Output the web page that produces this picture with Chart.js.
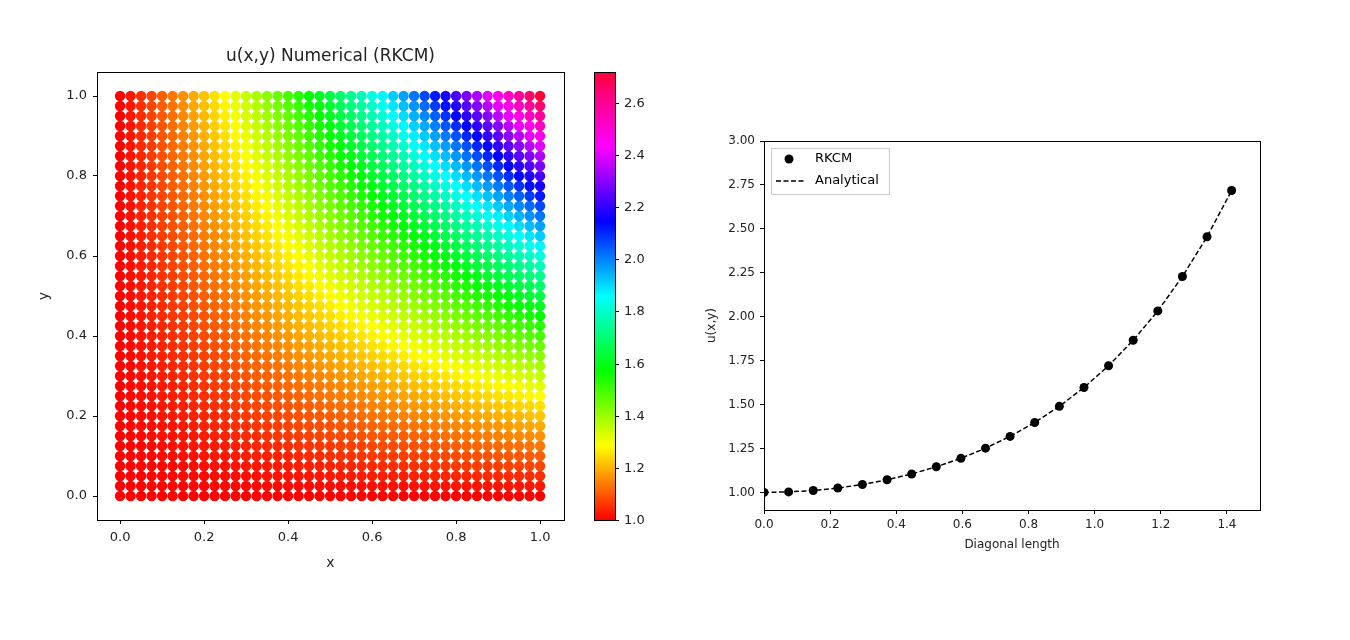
<!DOCTYPE html>
<html>
<head>
<meta charset="utf-8">
<script src="https://cdn.jsdelivr.net/npm/chart.js@4/dist/chart.umd.min.js"></script>
<style>
  body { margin: 0; background: #fff; }
  #left { position: absolute; left: 0; top: 0; }
  #right { position: absolute; left: 680px; top: 0; }
</style>
</head>
<body>
<canvas id="left" width="680" height="640"></canvas>
<canvas id="right" width="670" height="640"></canvas>
<script>
// grid of collocation points (41 x 41)
const gridX = [];
for (let i = 0; i <= 40; i++) gridX.push(i / 40);
const gridY = gridX.slice();

// diagonal comparison
const diagLength = [0, 0.0744, 0.1489, 0.2233, 0.2977, 0.3722, 0.4466, 0.5211,
  0.5955, 0.6699, 0.7443, 0.8188, 0.8932, 0.9677, 1.0421, 1.1165, 1.1910,
  1.2654, 1.3398, 1.4142];
const rkcmVals = [1.000, 1.003, 1.011, 1.025, 1.045, 1.072, 1.105, 1.146,
  1.194, 1.252, 1.319, 1.398, 1.490, 1.597, 1.721, 1.866, 2.033, 2.229,
  2.455, 2.718];
const analyticalVals = rkcmVals.slice();

const colorTicks = [1.0, 1.2, 1.4, 1.6, 1.8, 2.0, 2.2, 2.4, 2.6];
const uMin = 1.0;
const uMax = Math.E;

// hsv colormap
const rainbow = [
  [0, [1, 0, 0]], [1 / 6, [1, 1, 0]], [2 / 6, [0, 1, 0]], [3 / 6, [0, 1, 1]],
  [4 / 6, [0, 0, 1]], [5 / 6, [1, 0, 1]], [0.95, [1, 0, 0.5]], [1, [1, 0, 0.2]],
];
const cmap = (t) => {
  t = Math.max(0, Math.min(1, t));
  for (let i = 1; i < rainbow.length; i++) {
    if (t <= rainbow[i][0]) {
      const [t0, c0] = rainbow[i - 1];
      const [t1, c1] = rainbow[i];
      const f = (t - t0) / (t1 - t0);
      const c = c0.map((v, k) => Math.round(255 * (v + (c1[k] - v) * f)));
      return `rgb(${c[0]},${c[1]},${c[2]})`;
    }
  }
  return 'rgb(255,0,50)';
};

// field values: the numerical solution reproduces u = exp(x*y)
const points = [];
const colors = [];
gridY.forEach((y) => {
  gridX.forEach((x) => {
    const u = Math.exp(x * y);
    points.push({x: x, y: y});
    colors.push(cmap((u - uMin) / (uMax - uMin)));
  });
});

Chart.defaults.font.family = 'DejaVu Sans';
Chart.defaults.font.size = 13;
Chart.defaults.color = '#222';
Chart.defaults.devicePixelRatio = 1;

// frame around plot area plus axis titles at fixed offsets
const frame = {
  id: 'frame',
  afterDatasetsDraw(chart, args, opts) {
    const a = chart.chartArea;
    const ctx = chart.ctx;
    ctx.save();
    ctx.strokeStyle = '#000';
    ctx.lineWidth = 1;
    ctx.strokeRect(Math.round(a.left) + 0.5, Math.round(a.top) + 0.5,
        Math.round(a.right - a.left), Math.round(a.bottom - a.top));
    ctx.fillStyle = '#222';
    ctx.font = opts.size + 'px DejaVu Sans';
    ctx.textAlign = 'center';
    ctx.textBaseline = 'middle';
    ctx.fillText(opts.xTitle, (a.left + a.right) / 2, a.bottom + opts.xOff);
    ctx.translate(a.left - opts.yOff, (a.top + a.bottom) / 2);
    ctx.rotate(-Math.PI / 2);
    ctx.fillText(opts.yTitle, 0, 0);
    ctx.restore();
  },
};

const colorbar = {
  id: 'colorbar',
  afterDraw(chart) {
    const s = chart.scales.cb;
    const ctx = chart.ctx;
    const x0 = 594, w = 21;
    const top = s.getPixelForValue(uMax);
    const bot = s.getPixelForValue(uMin);
    ctx.save();
    for (let py = Math.floor(top); py < bot; py++) {
      const v = s.getValueForPixel(py + 0.5);
      ctx.fillStyle = cmap((v - uMin) / (uMax - uMin));
      ctx.fillRect(x0, py, w, 1);
    }
    ctx.strokeStyle = '#000';
    ctx.lineWidth = 1;
    ctx.strokeRect(x0 + 0.5, Math.round(top) + 0.5, w, Math.round(bot - top));
    ctx.fillStyle = '#222';
    ctx.font = '13px DejaVu Sans';
    ctx.textBaseline = 'middle';
    colorTicks.forEach((v) => {
      const py = Math.round(s.getPixelForValue(v)) + 0.5;
      ctx.beginPath();
      ctx.moveTo(x0 + w, py);
      ctx.lineTo(x0 + w + 4, py);
      ctx.stroke();
      ctx.fillText(v.toFixed(1), x0 + w + 9, py);
    });
    ctx.font = '17px DejaVu Sans';
    ctx.textAlign = 'center';
    ctx.textBaseline = 'alphabetic';
    const a = chart.chartArea;
    ctx.fillText('u(x,y) Numerical (RKCM)', (a.left + a.right) / 2, 61);
    ctx.restore();
  },
};

const tickGrid = {display: true, drawOnChartArea: false, tickLength: 4,
  color: '#000', tickColor: '#000'};

new Chart(document.getElementById('left'), {
  type: 'scatter',
  data: {
    datasets: [{
      data: points,
      pointBackgroundColor: colors,
      pointBorderWidth: 0,
      pointRadius: 5.2,
    }],
  },
  options: {
    responsive: false,
    animation: false,
    layout: {padding: {left: 0, top: 72, bottom: 0, right: 0}},
    plugins: {
      legend: {display: false},
      tooltip: {enabled: false},
      frame: {xTitle: 'x', yTitle: 'y', size: 14, xOff: 43, yOff: 53},
    },
    scales: {
      x: {
        type: 'linear', min: -0.055, max: 1.057,
        afterBuildTicks: (s) => {
          s.ticks = [0, 0.2, 0.4, 0.6, 0.8, 1.0].map((v) => ({value: v}));
        },
        afterFit: (s) => { s.height = 120; },
        ticks: {color: '#222', padding: 6, callback: (v) => Number(v).toFixed(1)},
        grid: tickGrid,
        border: {color: '#000'},
      },
      y: {
        type: 'linear', min: -0.06, max: 1.06,
        afterBuildTicks: (s) => {
          s.ticks = [0, 0.2, 0.4, 0.6, 0.8, 1.0].map((v) => ({value: v}));
        },
        afterFit: (s) => { s.width = 97; },
        ticks: {color: '#222', padding: 6, callback: (v) => Number(v).toFixed(1)},
        grid: tickGrid,
        border: {color: '#000'},
      },
      cb: {
        type: 'linear', position: 'right', min: uMin, max: uMax,
        afterFit: (s) => { s.width = 116; },
        ticks: {display: false},
        grid: {display: false},
        border: {display: false},
      },
    },
  },
  plugins: [frame, colorbar],
});

const boxLegend = {
  id: 'boxLegend',
  afterDraw(chart) {
    const ctx = chart.ctx;
    const a = chart.chartArea;
    const x = a.left + 7, y = a.top + 7;
    ctx.save();
    ctx.fillStyle = 'rgba(255,255,255,0.8)';
    ctx.strokeStyle = '#ccc';
    ctx.fillRect(x, y, 118, 46);
    ctx.strokeRect(x + 0.5, y + 0.5, 118, 46);
    ctx.fillStyle = '#000';
    ctx.beginPath();
    ctx.arc(x + 18, y + 11, 4.5, 0, Math.PI * 2);
    ctx.fill();
    ctx.strokeStyle = '#000';
    ctx.lineWidth = 1.5;
    ctx.setLineDash([5, 2.5]);
    ctx.beginPath();
    ctx.moveTo(x + 5, y + 33);
    ctx.lineTo(x + 33, y + 33);
    ctx.stroke();
    ctx.setLineDash([]);
    ctx.font = '13px DejaVu Sans';
    ctx.textBaseline = 'middle';
    ctx.fillText(chart.data.datasets[0].label, x + 44, y + 11);
    ctx.fillText(chart.data.datasets[1].label, x + 44, y + 33);
    ctx.restore();
  },
};

new Chart(document.getElementById('right'), {
  type: 'scatter',
  data: {
    datasets: [{
      label: 'RKCM',
      data: diagLength.map((d, i) => ({x: d, y: rkcmVals[i]})),
      backgroundColor: '#000',
      pointRadius: 4.5,
      pointBorderWidth: 0,
      showLine: false,
      order: 0,
    }, {
      label: 'Analytical',
      data: diagLength.map((d, i) => ({x: d, y: analyticalVals[i]})),
      borderColor: '#000',
      borderWidth: 1.5,
      borderDash: [5, 2.5],
      pointRadius: 0,
      showLine: true,
      order: 1,
    }],
  },
  options: {
    responsive: false,
    animation: false,
    layout: {padding: {left: 0, top: 141, bottom: 0, right: 90}},
    plugins: {
      legend: {display: false},
      tooltip: {enabled: false},
      frame: {xTitle: 'Diagonal length', yTitle: 'u(x,y)', size: 12, xOff: 35, yOff: 52},
    },
    scales: {
      x: {
        type: 'linear', min: 0, max: 1.5,
        afterBuildTicks: (s) => {
          s.ticks = [0, 0.2, 0.4, 0.6, 0.8, 1.0, 1.2, 1.4].map((v) => ({value: v}));
        },
        afterFit: (s) => { s.height = 130; },
        ticks: {color: '#222', font: {size: 12}, padding: 4, callback: (v) => Number(v).toFixed(1)},
        grid: tickGrid,
        border: {color: '#000'},
      },
      y: {
        type: 'linear', min: 0.9, max: 3.0,
        afterBuildTicks: (s) => {
          s.ticks = [1, 1.25, 1.5, 1.75, 2, 2.25, 2.5, 2.75, 3].map((v) => ({value: v}));
        },
        afterFit: (s) => { s.width = 84; },
        ticks: {color: '#222', font: {size: 12}, padding: 5, callback: (v) => Number(v).toFixed(2)},
        grid: tickGrid,
        border: {color: '#000'},
      },
    },
  },
  plugins: [frame, boxLegend],
});
</script>
</body>
</html>
